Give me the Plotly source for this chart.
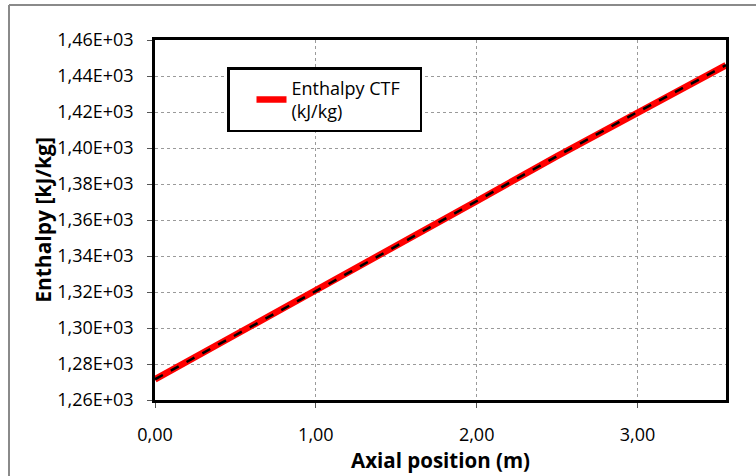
import plotly.graph_objects as go

# Data
axial_position = [0.0, 0.5, 1.0, 1.5, 2.0, 2.5, 3.0, 3.55]
enthalpy = [1271.5, 1296.0, 1320.5, 1345.5, 1370.5, 1395.5, 1420.0, 1446.0]

x_tick_vals = [0, 1, 2, 3]
x_tick_text = ["0,00", "1,00", "2,00", "3,00"]
y_tick_vals = [1260, 1280, 1300, 1320, 1340, 1360, 1380, 1400, 1420, 1440, 1460]
y_tick_text = ["1,26E+03", "1,28E+03", "1,30E+03", "1,32E+03", "1,34E+03", "1,36E+03",
               "1,38E+03", "1,40E+03", "1,42E+03", "1,44E+03", "1,46E+03"]

FONT = "Open Sans, Lato, sans-serif"

fig = go.Figure()
fig.add_trace(go.Scatter(
    x=axial_position, y=enthalpy, mode="lines",
    name="Enthalpy CTF   <br>(kJ/kg)",
    line=dict(color="#ff0000", width=6.5),
))
fig.add_trace(go.Scatter(
    x=axial_position, y=enthalpy, mode="lines",
    showlegend=False,
    line=dict(color="#000000", width=2.5, dash="dash"),
))

# plot-area pixel geometry: x 155..726, y 40..400
W, H = 571.0, 360.0
def px(xp):
    return (xp - 155) / W
def py(yp):
    return (400 - yp) / H

fig.add_shape(type="line", xref="paper", yref="paper",
              x0=px(9), x1=px(760), y0=py(5), y1=py(5),
              line=dict(color="#8a8a8a", width=2), layer="below")
fig.add_shape(type="line", xref="paper", yref="paper",
              x0=px(9), x1=px(9), y0=py(5), y1=py(480),
              line=dict(color="#8a8a8a", width=2), layer="below")

axis_common = dict(
    showline=True, linecolor="black", linewidth=2.5, mirror=True,
    ticks="outside", ticklen=5, tickcolor="#555555", tickwidth=1,
    showgrid=True, gridcolor="#9a9a9a", gridwidth=1, griddash="dot",
    zeroline=False, automargin=False,
    tickfont=dict(family=FONT, size=18, color="black"),
)

fig.update_layout(
    width=756, height=476,
    margin=dict(l=155, r=30, t=40, b=76),
    paper_bgcolor="white", plot_bgcolor="white",
    font=dict(family=FONT, color="black"),
    xaxis=dict(
        range=[0, 3.55], tickmode="array", tickvals=x_tick_vals, ticktext=x_tick_text,
        ticklabelstandoff=12,
        title=dict(text="<b>Axial position (m)</b>", font=dict(family=FONT, size=20.5), standoff=2),
        **axis_common,
    ),
    yaxis=dict(
        range=[1260, 1460], tickmode="array", tickvals=y_tick_vals, ticktext=y_tick_text,
        ticklabelstandoff=10,
        title=dict(text="<b>Enthalpy [kJ/kg]</b>", font=dict(family=FONT, size=21), standoff=0),
        **axis_common,
    ),
    legend=dict(
        x=px(227), y=py(67), xanchor="left", yanchor="top",
        bgcolor="white", bordercolor="black", borderwidth=2.5,
        font=dict(family=FONT, size=18, color="black"),
        indentation=22,
    ),
    showlegend=True,
)

fig.write_html("out.html")
